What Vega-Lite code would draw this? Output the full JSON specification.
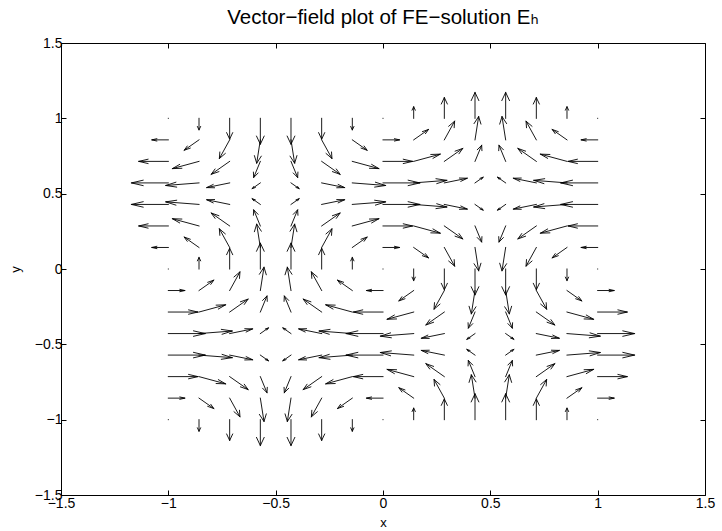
{
  "$schema": "https://vega.github.io/schema/vega-lite/v6.json",
  "width": 644,
  "height": 452,
  "autosize": {"type": "none"},
  "padding": {"left": 61, "top": 43, "right": 17, "bottom": 36},
  "background": "white",
  "title": {"text": "Vector−field plot of FE−solution Eₕ", "anchor": "middle", "baseline": "alphabetic", "offset": 16, "dy": 24},
  "config": {
    "view": {"stroke": "black", "strokeWidth": 1},
    "title": {"font": "Liberation Sans, DejaVu Sans, sans-serif", "fontSize": 20.5, "fontWeight": "normal", "color": "black"},
    "axis": {
      "format": "~g",
      "grid": false,
      "domain": false,
      "tickSize": -5,
      "tickColor": "black",
      "tickWidth": 1,
      "minExtent": 0,
      "labelFont": "Liberation Sans",
      "labelFontSize": 14,
      "labelColor": "black",
      "labelOverlap": false,
      "labelBound": false,
      "labelFlush": false,
      "titleFont": "Liberation Sans",
      "titleFontSize": 13,
      "titleFontWeight": "normal",
      "titleColor": "black"
    }
  },
  "data": {
    "values": [
      {"x": -1, "y": -1, "u": 0, "v": 0},
      {"x": -1, "y": -0.8571, "u": 0.077, "v": 0},
      {"x": -1, "y": -0.7143, "u": 0.138, "v": 0},
      {"x": -1, "y": -0.5714, "u": 0.172, "v": 0},
      {"x": -1, "y": -0.4286, "u": 0.172, "v": 0},
      {"x": -1, "y": -0.2857, "u": 0.138, "v": 0},
      {"x": -1, "y": -0.1429, "u": 0.077, "v": 0},
      {"x": -1, "y": 0, "u": 0, "v": 0},
      {"x": -1, "y": 0.1429, "u": -0.077, "v": 0},
      {"x": -1, "y": 0.2857, "u": -0.138, "v": 0},
      {"x": -1, "y": 0.4286, "u": -0.172, "v": 0},
      {"x": -1, "y": 0.5714, "u": -0.172, "v": 0},
      {"x": -1, "y": 0.7143, "u": -0.138, "v": 0},
      {"x": -1, "y": 0.8571, "u": -0.077, "v": 0},
      {"x": -1, "y": 1, "u": 0, "v": 0},

      {"x": -0.8571, "y": -1, "u": 0, "v": -0.077},
      {"x": -0.8571, "y": -0.8571, "u": 0.069, "v": -0.069},
      {"x": -0.8571, "y": -0.7143, "u": 0.124, "v": -0.048},
      {"x": -0.8571, "y": -0.5714, "u": 0.155, "v": -0.017},
      {"x": -0.8571, "y": -0.4286, "u": 0.155, "v": 0.017},
      {"x": -0.8571, "y": -0.2857, "u": 0.124, "v": 0.048},
      {"x": -0.8571, "y": -0.1429, "u": 0.069, "v": 0.069},
      {"x": -0.8571, "y": 0, "u": 0, "v": 0.077},
      {"x": -0.8571, "y": 0.1429, "u": -0.069, "v": 0.069},
      {"x": -0.8571, "y": 0.2857, "u": -0.124, "v": 0.048},
      {"x": -0.8571, "y": 0.4286, "u": -0.155, "v": 0.017},
      {"x": -0.8571, "y": 0.5714, "u": -0.155, "v": -0.017},
      {"x": -0.8571, "y": 0.7143, "u": -0.124, "v": -0.048},
      {"x": -0.8571, "y": 0.8571, "u": -0.069, "v": -0.069},
      {"x": -0.8571, "y": 1, "u": 0, "v": -0.077},

      {"x": -0.7143, "y": -1, "u": 0, "v": -0.138},
      {"x": -0.7143, "y": -0.8571, "u": 0.048, "v": -0.124},
      {"x": -0.7143, "y": -0.7143, "u": 0.086, "v": -0.086},
      {"x": -0.7143, "y": -0.5714, "u": 0.107, "v": -0.031},
      {"x": -0.7143, "y": -0.4286, "u": 0.107, "v": 0.031},
      {"x": -0.7143, "y": -0.2857, "u": 0.086, "v": 0.086},
      {"x": -0.7143, "y": -0.1429, "u": 0.048, "v": 0.124},
      {"x": -0.7143, "y": 0, "u": 0, "v": 0.138},
      {"x": -0.7143, "y": 0.1429, "u": -0.048, "v": 0.124},
      {"x": -0.7143, "y": 0.2857, "u": -0.086, "v": 0.086},
      {"x": -0.7143, "y": 0.4286, "u": -0.107, "v": 0.031},
      {"x": -0.7143, "y": 0.5714, "u": -0.107, "v": -0.031},
      {"x": -0.7143, "y": 0.7143, "u": -0.086, "v": -0.086},
      {"x": -0.7143, "y": 0.8571, "u": -0.048, "v": -0.124},
      {"x": -0.7143, "y": 1, "u": 0, "v": -0.138},

      {"x": -0.5714, "y": -1, "u": 0, "v": -0.172},
      {"x": -0.5714, "y": -0.8571, "u": 0.017, "v": -0.155},
      {"x": -0.5714, "y": -0.7143, "u": 0.031, "v": -0.107},
      {"x": -0.5714, "y": -0.5714, "u": 0.038, "v": -0.038},
      {"x": -0.5714, "y": -0.4286, "u": 0.038, "v": 0.038},
      {"x": -0.5714, "y": -0.2857, "u": 0.031, "v": 0.107},
      {"x": -0.5714, "y": -0.1429, "u": 0.017, "v": 0.155},
      {"x": -0.5714, "y": 0, "u": 0, "v": 0.172},
      {"x": -0.5714, "y": 0.1429, "u": -0.017, "v": 0.155},
      {"x": -0.5714, "y": 0.2857, "u": -0.031, "v": 0.107},
      {"x": -0.5714, "y": 0.4286, "u": -0.038, "v": 0.038},
      {"x": -0.5714, "y": 0.5714, "u": -0.038, "v": -0.038},
      {"x": -0.5714, "y": 0.7143, "u": -0.031, "v": -0.107},
      {"x": -0.5714, "y": 0.8571, "u": -0.017, "v": -0.155},
      {"x": -0.5714, "y": 1, "u": 0, "v": -0.172},

      {"x": -0.4286, "y": -1, "u": 0, "v": -0.172},
      {"x": -0.4286, "y": -0.8571, "u": -0.017, "v": -0.155},
      {"x": -0.4286, "y": -0.7143, "u": -0.031, "v": -0.107},
      {"x": -0.4286, "y": -0.5714, "u": -0.038, "v": -0.038},
      {"x": -0.4286, "y": -0.4286, "u": -0.038, "v": 0.038},
      {"x": -0.4286, "y": -0.2857, "u": -0.031, "v": 0.107},
      {"x": -0.4286, "y": -0.1429, "u": -0.017, "v": 0.155},
      {"x": -0.4286, "y": 0, "u": 0, "v": 0.172},
      {"x": -0.4286, "y": 0.1429, "u": 0.017, "v": 0.155},
      {"x": -0.4286, "y": 0.2857, "u": 0.031, "v": 0.107},
      {"x": -0.4286, "y": 0.4286, "u": 0.038, "v": 0.038},
      {"x": -0.4286, "y": 0.5714, "u": 0.038, "v": -0.038},
      {"x": -0.4286, "y": 0.7143, "u": 0.031, "v": -0.107},
      {"x": -0.4286, "y": 0.8571, "u": 0.017, "v": -0.155},
      {"x": -0.4286, "y": 1, "u": 0, "v": -0.172},

      {"x": -0.2857, "y": -1, "u": 0, "v": -0.138},
      {"x": -0.2857, "y": -0.8571, "u": -0.048, "v": -0.124},
      {"x": -0.2857, "y": -0.7143, "u": -0.086, "v": -0.086},
      {"x": -0.2857, "y": -0.5714, "u": -0.107, "v": -0.031},
      {"x": -0.2857, "y": -0.4286, "u": -0.107, "v": 0.031},
      {"x": -0.2857, "y": -0.2857, "u": -0.086, "v": 0.086},
      {"x": -0.2857, "y": -0.1429, "u": -0.048, "v": 0.124},
      {"x": -0.2857, "y": 0, "u": 0, "v": 0.138},
      {"x": -0.2857, "y": 0.1429, "u": 0.048, "v": 0.124},
      {"x": -0.2857, "y": 0.2857, "u": 0.086, "v": 0.086},
      {"x": -0.2857, "y": 0.4286, "u": 0.107, "v": 0.031},
      {"x": -0.2857, "y": 0.5714, "u": 0.107, "v": -0.031},
      {"x": -0.2857, "y": 0.7143, "u": 0.086, "v": -0.086},
      {"x": -0.2857, "y": 0.8571, "u": 0.048, "v": -0.124},
      {"x": -0.2857, "y": 1, "u": 0, "v": -0.138},

      {"x": -0.1429, "y": -1, "u": 0, "v": -0.077},
      {"x": -0.1429, "y": -0.8571, "u": -0.069, "v": -0.069},
      {"x": -0.1429, "y": -0.7143, "u": -0.124, "v": -0.048},
      {"x": -0.1429, "y": -0.5714, "u": -0.155, "v": -0.017},
      {"x": -0.1429, "y": -0.4286, "u": -0.155, "v": 0.017},
      {"x": -0.1429, "y": -0.2857, "u": -0.124, "v": 0.048},
      {"x": -0.1429, "y": -0.1429, "u": -0.069, "v": 0.069},
      {"x": -0.1429, "y": 0, "u": 0, "v": 0.077},
      {"x": -0.1429, "y": 0.1429, "u": 0.069, "v": 0.069},
      {"x": -0.1429, "y": 0.2857, "u": 0.124, "v": 0.048},
      {"x": -0.1429, "y": 0.4286, "u": 0.155, "v": 0.017},
      {"x": -0.1429, "y": 0.5714, "u": 0.155, "v": -0.017},
      {"x": -0.1429, "y": 0.7143, "u": 0.124, "v": -0.048},
      {"x": -0.1429, "y": 0.8571, "u": 0.069, "v": -0.069},
      {"x": -0.1429, "y": 1, "u": 0, "v": -0.077},

      {"x": 0, "y": -1, "u": 0, "v": 0},
      {"x": 0, "y": -0.8571, "u": -0.077, "v": 0},
      {"x": 0, "y": -0.7143, "u": -0.138, "v": 0},
      {"x": 0, "y": -0.5714, "u": -0.172, "v": 0},
      {"x": 0, "y": -0.4286, "u": -0.172, "v": 0},
      {"x": 0, "y": -0.2857, "u": -0.138, "v": 0},
      {"x": 0, "y": -0.1429, "u": -0.077, "v": 0},
      {"x": 0, "y": 0, "u": 0, "v": 0},
      {"x": 0, "y": 0.1429, "u": 0.077, "v": 0},
      {"x": 0, "y": 0.2857, "u": 0.138, "v": 0},
      {"x": 0, "y": 0.4286, "u": 0.172, "v": 0},
      {"x": 0, "y": 0.5714, "u": 0.172, "v": 0},
      {"x": 0, "y": 0.7143, "u": 0.138, "v": 0},
      {"x": 0, "y": 0.8571, "u": 0.077, "v": 0},
      {"x": 0, "y": 1, "u": 0, "v": 0},

      {"x": 0.1429, "y": -1, "u": 0, "v": 0.077},
      {"x": 0.1429, "y": -0.8571, "u": -0.069, "v": 0.069},
      {"x": 0.1429, "y": -0.7143, "u": -0.124, "v": 0.048},
      {"x": 0.1429, "y": -0.5714, "u": -0.155, "v": 0.017},
      {"x": 0.1429, "y": -0.4286, "u": -0.155, "v": -0.017},
      {"x": 0.1429, "y": -0.2857, "u": -0.124, "v": -0.048},
      {"x": 0.1429, "y": -0.1429, "u": -0.069, "v": -0.069},
      {"x": 0.1429, "y": 0, "u": 0, "v": -0.077},
      {"x": 0.1429, "y": 0.1429, "u": 0.069, "v": -0.069},
      {"x": 0.1429, "y": 0.2857, "u": 0.124, "v": -0.048},
      {"x": 0.1429, "y": 0.4286, "u": 0.155, "v": -0.017},
      {"x": 0.1429, "y": 0.5714, "u": 0.155, "v": 0.017},
      {"x": 0.1429, "y": 0.7143, "u": 0.124, "v": 0.048},
      {"x": 0.1429, "y": 0.8571, "u": 0.069, "v": 0.069},
      {"x": 0.1429, "y": 1, "u": 0, "v": 0.077},

      {"x": 0.2857, "y": -1, "u": 0, "v": 0.138},
      {"x": 0.2857, "y": -0.8571, "u": -0.048, "v": 0.124},
      {"x": 0.2857, "y": -0.7143, "u": -0.086, "v": 0.086},
      {"x": 0.2857, "y": -0.5714, "u": -0.107, "v": 0.031},
      {"x": 0.2857, "y": -0.4286, "u": -0.107, "v": -0.031},
      {"x": 0.2857, "y": -0.2857, "u": -0.086, "v": -0.086},
      {"x": 0.2857, "y": -0.1429, "u": -0.048, "v": -0.124},
      {"x": 0.2857, "y": 0, "u": 0, "v": -0.138},
      {"x": 0.2857, "y": 0.1429, "u": 0.048, "v": -0.124},
      {"x": 0.2857, "y": 0.2857, "u": 0.086, "v": -0.086},
      {"x": 0.2857, "y": 0.4286, "u": 0.107, "v": -0.031},
      {"x": 0.2857, "y": 0.5714, "u": 0.107, "v": 0.031},
      {"x": 0.2857, "y": 0.7143, "u": 0.086, "v": 0.086},
      {"x": 0.2857, "y": 0.8571, "u": 0.048, "v": 0.124},
      {"x": 0.2857, "y": 1, "u": 0, "v": 0.138},

      {"x": 0.4286, "y": -1, "u": 0, "v": 0.172},
      {"x": 0.4286, "y": -0.8571, "u": -0.017, "v": 0.155},
      {"x": 0.4286, "y": -0.7143, "u": -0.031, "v": 0.107},
      {"x": 0.4286, "y": -0.5714, "u": -0.038, "v": 0.038},
      {"x": 0.4286, "y": -0.4286, "u": -0.038, "v": -0.038},
      {"x": 0.4286, "y": -0.2857, "u": -0.031, "v": -0.107},
      {"x": 0.4286, "y": -0.1429, "u": -0.017, "v": -0.155},
      {"x": 0.4286, "y": 0, "u": 0, "v": -0.172},
      {"x": 0.4286, "y": 0.1429, "u": 0.017, "v": -0.155},
      {"x": 0.4286, "y": 0.2857, "u": 0.031, "v": -0.107},
      {"x": 0.4286, "y": 0.4286, "u": 0.038, "v": -0.038},
      {"x": 0.4286, "y": 0.5714, "u": 0.038, "v": 0.038},
      {"x": 0.4286, "y": 0.7143, "u": 0.031, "v": 0.107},
      {"x": 0.4286, "y": 0.8571, "u": 0.017, "v": 0.155},
      {"x": 0.4286, "y": 1, "u": 0, "v": 0.172},

      {"x": 0.5714, "y": -1, "u": 0, "v": 0.172},
      {"x": 0.5714, "y": -0.8571, "u": 0.017, "v": 0.155},
      {"x": 0.5714, "y": -0.7143, "u": 0.031, "v": 0.107},
      {"x": 0.5714, "y": -0.5714, "u": 0.038, "v": 0.038},
      {"x": 0.5714, "y": -0.4286, "u": 0.038, "v": -0.038},
      {"x": 0.5714, "y": -0.2857, "u": 0.031, "v": -0.107},
      {"x": 0.5714, "y": -0.1429, "u": 0.017, "v": -0.155},
      {"x": 0.5714, "y": 0, "u": 0, "v": -0.172},
      {"x": 0.5714, "y": 0.1429, "u": -0.017, "v": -0.155},
      {"x": 0.5714, "y": 0.2857, "u": -0.031, "v": -0.107},
      {"x": 0.5714, "y": 0.4286, "u": -0.038, "v": -0.038},
      {"x": 0.5714, "y": 0.5714, "u": -0.038, "v": 0.038},
      {"x": 0.5714, "y": 0.7143, "u": -0.031, "v": 0.107},
      {"x": 0.5714, "y": 0.8571, "u": -0.017, "v": 0.155},
      {"x": 0.5714, "y": 1, "u": 0, "v": 0.172},

      {"x": 0.7143, "y": -1, "u": 0, "v": 0.138},
      {"x": 0.7143, "y": -0.8571, "u": 0.048, "v": 0.124},
      {"x": 0.7143, "y": -0.7143, "u": 0.086, "v": 0.086},
      {"x": 0.7143, "y": -0.5714, "u": 0.107, "v": 0.031},
      {"x": 0.7143, "y": -0.4286, "u": 0.107, "v": -0.031},
      {"x": 0.7143, "y": -0.2857, "u": 0.086, "v": -0.086},
      {"x": 0.7143, "y": -0.1429, "u": 0.048, "v": -0.124},
      {"x": 0.7143, "y": 0, "u": 0, "v": -0.138},
      {"x": 0.7143, "y": 0.1429, "u": -0.048, "v": -0.124},
      {"x": 0.7143, "y": 0.2857, "u": -0.086, "v": -0.086},
      {"x": 0.7143, "y": 0.4286, "u": -0.107, "v": -0.031},
      {"x": 0.7143, "y": 0.5714, "u": -0.107, "v": 0.031},
      {"x": 0.7143, "y": 0.7143, "u": -0.086, "v": 0.086},
      {"x": 0.7143, "y": 0.8571, "u": -0.048, "v": 0.124},
      {"x": 0.7143, "y": 1, "u": 0, "v": 0.138},

      {"x": 0.8571, "y": -1, "u": 0, "v": 0.077},
      {"x": 0.8571, "y": -0.8571, "u": 0.069, "v": 0.069},
      {"x": 0.8571, "y": -0.7143, "u": 0.124, "v": 0.048},
      {"x": 0.8571, "y": -0.5714, "u": 0.155, "v": 0.017},
      {"x": 0.8571, "y": -0.4286, "u": 0.155, "v": -0.017},
      {"x": 0.8571, "y": -0.2857, "u": 0.124, "v": -0.048},
      {"x": 0.8571, "y": -0.1429, "u": 0.069, "v": -0.069},
      {"x": 0.8571, "y": 0, "u": 0, "v": -0.077},
      {"x": 0.8571, "y": 0.1429, "u": -0.069, "v": -0.069},
      {"x": 0.8571, "y": 0.2857, "u": -0.124, "v": -0.048},
      {"x": 0.8571, "y": 0.4286, "u": -0.155, "v": -0.017},
      {"x": 0.8571, "y": 0.5714, "u": -0.155, "v": 0.017},
      {"x": 0.8571, "y": 0.7143, "u": -0.124, "v": 0.048},
      {"x": 0.8571, "y": 0.8571, "u": -0.069, "v": 0.069},
      {"x": 0.8571, "y": 1, "u": 0, "v": 0.077},

      {"x": 1, "y": -1, "u": 0, "v": 0},
      {"x": 1, "y": -0.8571, "u": 0.077, "v": 0},
      {"x": 1, "y": -0.7143, "u": 0.138, "v": 0},
      {"x": 1, "y": -0.5714, "u": 0.172, "v": 0},
      {"x": 1, "y": -0.4286, "u": 0.172, "v": 0},
      {"x": 1, "y": -0.2857, "u": 0.138, "v": 0},
      {"x": 1, "y": -0.1429, "u": 0.077, "v": 0},
      {"x": 1, "y": 0, "u": 0, "v": 0},
      {"x": 1, "y": 0.1429, "u": -0.077, "v": 0},
      {"x": 1, "y": 0.2857, "u": -0.138, "v": 0},
      {"x": 1, "y": 0.4286, "u": -0.172, "v": 0},
      {"x": 1, "y": 0.5714, "u": -0.172, "v": 0},
      {"x": 1, "y": 0.7143, "u": -0.138, "v": 0},
      {"x": 1, "y": 0.8571, "u": -0.077, "v": 0},
      {"x": 1, "y": 1, "u": 0, "v": 0}
    ]
  },
  "transform": [
    {"calculate": "datum.x + datum.u", "as": "xe"},
    {"calculate": "datum.y + datum.v", "as": "ye"},
    {"calculate": "datum.xe - 0.33 * (datum.u + 0.33 * datum.v)", "as": "hx1"},
    {"calculate": "datum.ye - 0.33 * (datum.v - 0.33 * datum.u)", "as": "hy1"},
    {"calculate": "datum.xe - 0.33 * (datum.u - 0.33 * datum.v)", "as": "hx2"},
    {"calculate": "datum.ye - 0.33 * (datum.v + 0.33 * datum.u)", "as": "hy2"}
  ],
  "layer": [
    {
      "mark": {"type": "rule", "color": "black", "strokeWidth": 0.9, "strokeCap": "square"},
      "encoding": {
        "x": {"field": "x", "type": "quantitative", "scale": {"domain": [-1.5, 1.5], "nice": false, "zero": false}, "axis": {"orient": "bottom", "values": [-1.5, -1, -0.5, 0, 0.5, 1, 1.5], "title": "x", "labelPadding": 6, "titlePadding": 6}},
        "y": {"field": "y", "type": "quantitative", "scale": {"domain": [-1.5, 1.5], "nice": false, "zero": false}, "axis": {"orient": "left", "values": [-1.5, -1, -0.5, 0, 0.5, 1, 1.5], "title": "y", "labelPadding": 4, "titlePadding": 12}},
        "x2": {"field": "xe"},
        "y2": {"field": "ye"}
      }
    },
    {
      "mark": {"type": "rule", "color": "black", "strokeWidth": 0.9},
      "encoding": {
        "x": {"field": "hx1", "type": "quantitative", "scale": {"domain": [-1.5, 1.5], "nice": false, "zero": false}, "axis": {"orient": "top", "values": [-1.5, -1, -0.5, 0, 0.5, 1, 1.5], "labels": false, "title": null}},
        "y": {"field": "hy1", "type": "quantitative", "scale": {"domain": [-1.5, 1.5], "nice": false, "zero": false}, "axis": {"orient": "right", "values": [-1.5, -1, -0.5, 0, 0.5, 1, 1.5], "labels": false, "title": null}},
        "x2": {"field": "xe"},
        "y2": {"field": "ye"}
      }
    },
    {
      "mark": {"type": "rule", "color": "black", "strokeWidth": 0.9},
      "encoding": {
        "x": {"field": "hx2", "type": "quantitative", "scale": {"domain": [-1.5, 1.5], "nice": false, "zero": false}, "axis": null},
        "y": {"field": "hy2", "type": "quantitative", "scale": {"domain": [-1.5, 1.5], "nice": false, "zero": false}, "axis": null},
        "x2": {"field": "xe"},
        "y2": {"field": "ye"}
      }
    }
  ],
  "resolve": {"axis": {"x": "independent", "y": "independent"}}
}
